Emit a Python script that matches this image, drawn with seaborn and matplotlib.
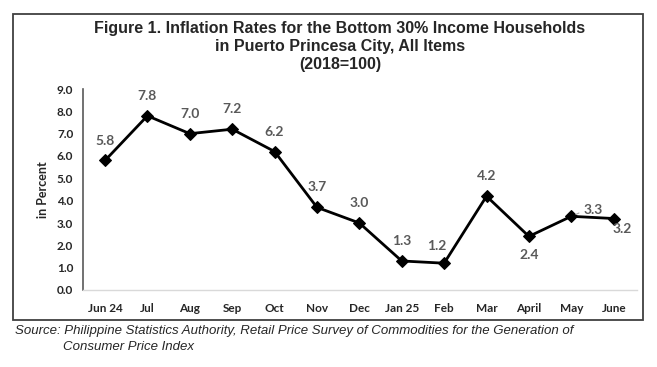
import matplotlib
matplotlib.use("Agg")
import matplotlib.pyplot as plt
import seaborn as sns
import pandas as pd
from matplotlib.patches import Rectangle

months = ["Jun 24", "Jul", "Aug", "Sep", "Oct", "Nov", "Dec", "Jan 25", "Feb", "Mar", "April", "May", "June"]
rates = [5.8, 7.8, 7.0, 7.2, 6.2, 3.7, 3.0, 1.3, 1.2, 4.2, 2.4, 3.3, 3.2]
y_ticks = [0.0, 1.0, 2.0, 3.0, 4.0, 5.0, 6.0, 7.0, 8.0, 9.0]

df = pd.DataFrame({"month": months, "rate": rates})

sns.set_theme(style="white")
plt.rcParams['font.family'] = ['Lato', 'DejaVu Sans']

fig = plt.figure(figsize=(6.57, 3.67), dpi=100)
ax = fig.add_axes([83/657, 1 - 290/367, 554/657, 201/367])

sns.lineplot(data=df, x="month", y="rate", ax=ax, color="black", linewidth=2,
             marker="D", markersize=6.5, markeredgecolor="black", sort=False)

ax.set_xlim(-0.52, 12.55)
ax.set_ylim(0, 9)
ax.set_yticks(y_ticks)
ax.set_yticklabels([f"{v:.1f}" for v in y_ticks], fontsize=8.5, fontweight="bold", color="#262626")
ax.set_xticks(range(len(months)))
ax.set_xticklabels(months, fontsize=8.5, fontweight="bold", color="#262626")
ax.tick_params(axis="x", length=0, pad=9)
ax.tick_params(axis="y", length=0, pad=7)
ax.set_xlabel("")
ax.set_ylabel("in Percent", fontsize=9, fontweight="bold", color="#262626", labelpad=6)

for s in ["top", "right"]:
    ax.spines[s].set_visible(False)
ax.spines["left"].set_color("#595959")
ax.spines["left"].set_linewidth(1.2)
ax.spines["bottom"].set_color("#d9d9d9")
ax.spines["bottom"].set_linewidth(1)

label_color = "#595959"
default = (0, 10, "center", "bottom")
custom = {
    8: (-5, 8, "center", "bottom"),
    10: (0, -9, "center", "top"),
    11: (8.5, 4.3, "left", "center"),
    12: (6.5, -7.5, "center", "center"),
}
for i, (m, v) in enumerate(zip(months, rates)):
    dx, dy, ha, va = custom.get(i, default)
    ax.annotate(f"{v:.1f}", (i, v), xytext=(dx, dy), textcoords="offset points",
                ha=ha, va=va, fontsize=10, fontweight="bold", color=label_color)
# leader line for May
ax.annotate("", xy=(11.05, 3.33), xytext=(11.24, 3.5),
            arrowprops=dict(arrowstyle="-", color="#a6a6a6", lw=0.8))

title_kw = dict(ha="center", va="center", fontsize=11.5, fontweight="bold", family="Liberation Sans")
fig.text(340/657, 1 - 28/367, "Figure 1. Inflation Rates for the Bottom 30% Income Households", **title_kw)
fig.text(340/657, 1 - 46/367, "in Puerto Princesa City, All Items", **title_kw)
fig.text(340/657, 1 - 64/367, "(2018=100)", **title_kw)

fig.patches.append(Rectangle((13/657, 1 - 320/367), 630/657, 306/367, transform=fig.transFigure,
                             fill=False, edgecolor="#404040", linewidth=1.3))

fig.text(15/657, 1 - 331/367,
         "Source: Philippine Statistics Authority, Retail Price Survey of Commodities for the Generation of",
         ha="left", va="center", fontsize=9.5, style="italic", family="Liberation Sans")
fig.text(63/657, 1 - 347/367, "Consumer Price Index",
         ha="left", va="center", fontsize=9.5, style="italic", family="Liberation Sans")

fig.savefig("out.png", dpi=100)
